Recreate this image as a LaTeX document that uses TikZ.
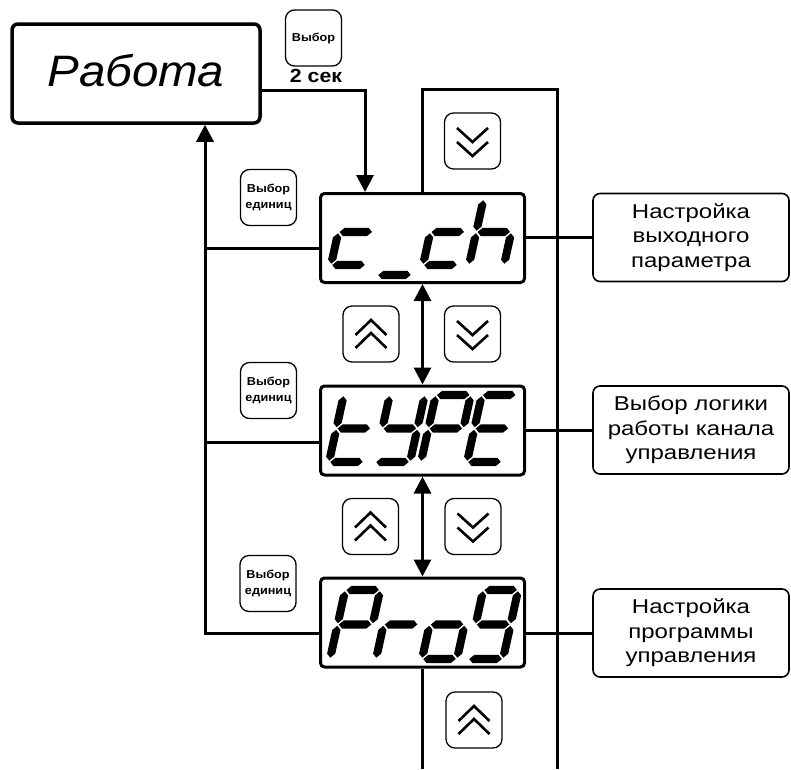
\documentclass[tikz,border=0pt]{standalone}
\usepackage{fontspec}
\setmainfont{Liberation Sans}
\newfontfamily\lblfont[FakeStretch=1.2]{Liberation Sans}
\newfontfamily\rabfont[FakeStretch=1.08]{Liberation Sans}
\newfontfamily\btnfont[FakeStretch=1.1]{Liberation Sans}
\newfontfamily\secfont[FakeStretch=1.12]{Liberation Sans}
\usetikzlibrary{arrows.meta,calc}
% seven-segment geometry
\def\sW{35}\def\sT{4.1}\def\sG{1.3}\def\sS{0.22}\def\dH{66}
\newcommand\hseg[1]{\fill ({\sG},{#1}) -- ({\sG+\sT},{#1-\sT}) -- ({\sW-\sG-\sT},{#1-\sT}) -- ({\sW-\sG},{#1}) -- ({\sW-\sG-\sT},{#1+\sT}) -- ({\sG+\sT},{#1+\sT}) -- cycle;}
\newcommand\vseg[3]{\fill ({#1},{#2+\sG}) -- ({#1+\sT},{#2+\sG+\sT}) -- ({#1+\sT},{#3-\sG-\sT}) -- ({#1},{#3-\sG}) -- ({#1-\sT},{#3-\sG-\sT}) -- ({#1-\sT},{#2+\sG+\sT}) -- cycle;}
\newcommand\dsega{\hseg{0}}
\newcommand\dsegb{\vseg{\sW}{0}{\dH/2}}
\newcommand\dsegc{\vseg{\sW}{\dH/2}{\dH}}
\newcommand\dsegd{\hseg{\dH}}
\newcommand\dsege{\vseg{0}{\dH/2}{\dH}}
\newcommand\dsegf{\vseg{0}{0}{\dH/2}}
\newcommand\dsegg{\hseg{\dH/2}}
\newcommand\sdigit[3]{\begin{scope}[shift={({#1+\sS*\dH},{#2})},xslant=\sS]\foreach \q in {#3}{\csname dseg\q\endcsname}\end{scope}}
\newcommand\upchev[1]{\begin{scope}[shift={(#1.center)}]\draw[chev] (-15.5,1)--(0,-14)--(15.5,1);\draw[chev] (-15.5,14)--(0,-1)--(15.5,14);\end{scope}}
\newcommand\dnchev[1]{\begin{scope}[shift={(#1.center)}]\draw[chev] (-15.5,-13)--(0,1)--(15.5,-13);\draw[chev] (-15.5,1)--(0,15)--(15.5,1);\end{scope}}
\tikzset{
  conn/.style={line width=3pt},
  disp/.style={draw, line width=3pt, rounded corners=4pt, minimum width=204pt, minimum height=89pt, inner sep=0pt, fill=white},
  btn/.style={draw, line width=1.3pt, rounded corners=9pt, minimum width=56pt, minimum height=56pt, inner sep=0pt, fill=white, align=center, font={\btnfont\bfseries\fontsize{11.5}{16}\selectfont}},
  lbl/.style={draw, line width=1.6pt, rounded corners=7pt, minimum width=196pt, minimum height=88pt, inner sep=0pt, align=center, font={\lblfont\fontsize{20}{24.5}\selectfont}},
  mainbox/.style={draw, line width=3.5pt, rounded corners=6pt, minimum width=248pt, minimum height=99pt, inner sep=0pt, font={\rabfont\itshape\fontsize{44}{50}\selectfont}},
  chev/.style={line width=2.6pt},
  >={Triangle[length=17pt,width=17pt]}
}
\begin{document}
\begin{tikzpicture}[x=1pt,y=-1pt]
\fill[white] (0,0) rectangle (791,769);
\useasboundingbox (0,0) rectangle (791,769);
% nodes
\node[mainbox] (rab) at (136,73.5) {\raisebox{6pt}{Работа}};
\node[btn] (bsel) at (313.5,38) {Выбор};
\node[font={\secfont\bfseries\fontsize{19}{22}\selectfont}, inner sep=0pt] (sec) at (316,76) {2 сек};
\node[disp] (cch) at (422.5,238) {};
\node[disp] (ty) at (422.5,430.5) {};
\node[disp] (pg) at (422.5,622.5) {};
\node[btn] (e1) at (268.5,197.5) {Выбор\\единиц};
\node[btn] (e2) at (268.5,390.5) {Выбор\\единиц};
\node[btn] (e3) at (268,583.5) {Выбор\\единиц};
\node[btn] (dn0) at (472.5,141) {};
\node[btn] (up1) at (371,334) {};
\node[btn] (dn1) at (472.5,334) {};
\node[btn] (up2) at (370.5,526.5) {};
\node[btn] (dn2) at (473,526.5) {};
\node[btn] (up3) at (474,720) {};
\node[lbl] (l1) at (691,237.5) {Настройка\\выходного\\параметра};
\node[lbl] (l2) at (691,430) {Выбор логики\\работы канала\\управления};
\node[lbl] (l3) at (691,633) {Настройка\\программы\\управления};
\coordinate (tr) at (557,89);
\coordinate (br) at (557,769);
\coordinate (L) at (205,300);
% chevrons
\dnchev{dn0}\upchev{up1}\dnchev{dn1}\upchev{up2}\dnchev{dn2}\upchev{up3}
% connectors
\draw[conn,->] ([yshift=-16.5pt]rab.east) -| ([xshift=46pt]cch.north west);
\draw[conn,->] ([yshift=-11pt]pg.west) -| ([xshift=69pt]rab.south);
\coordinate (c1) at ([yshift=-10pt]cch.west);
\coordinate (c2) at ([yshift=-11.5pt]ty.west);
\draw[conn] (c1) -- (c1 -| L);
\draw[conn] (c2) -- (c2 -| L);
\draw[conn] (cch.north) -- (cch.north |- tr) -- (tr) -- (br);
\draw[conn,<->] (cch.south) -- (ty.north);
\draw[conn,<->] (ty.south) -- (pg.north);
\draw[conn] (pg.south) -- (pg.south |- br);
\draw[conn] (l1.west -| cch.east) -- (l1.west);
\draw[conn] (l2.west -| ty.east) -- (l2.west);
\draw[conn] (l3.west -| pg.east) -- (l3.west);
% digits c_ch
\def\dH{66}
\sdigit{331}{199}{d,e,g}
\sdigit{377}{209}{d}
\sdigit{423}{199}{d,e,g}
\sdigit{469}{199}{f,e,g,c}
% tYPE
\def\dH{67}
\sdigit{329}{395}{f,e,g,d}
\sdigit{375}{395}{f,b,g,c,d}
\sdigit{421}{395}{a,b,f,g,e}
\sdigit{467}{395}{a,f,g,e,d}
% ProG
\def\dH{69}
\sdigit{330}{590}{a,b,f,g,e}
\sdigit{376}{590}{e,g}
\sdigit{422}{590}{g,c,d,e}
\sdigit{468}{590}{a,b,c,d,f,g}
\end{tikzpicture}
\end{document}
